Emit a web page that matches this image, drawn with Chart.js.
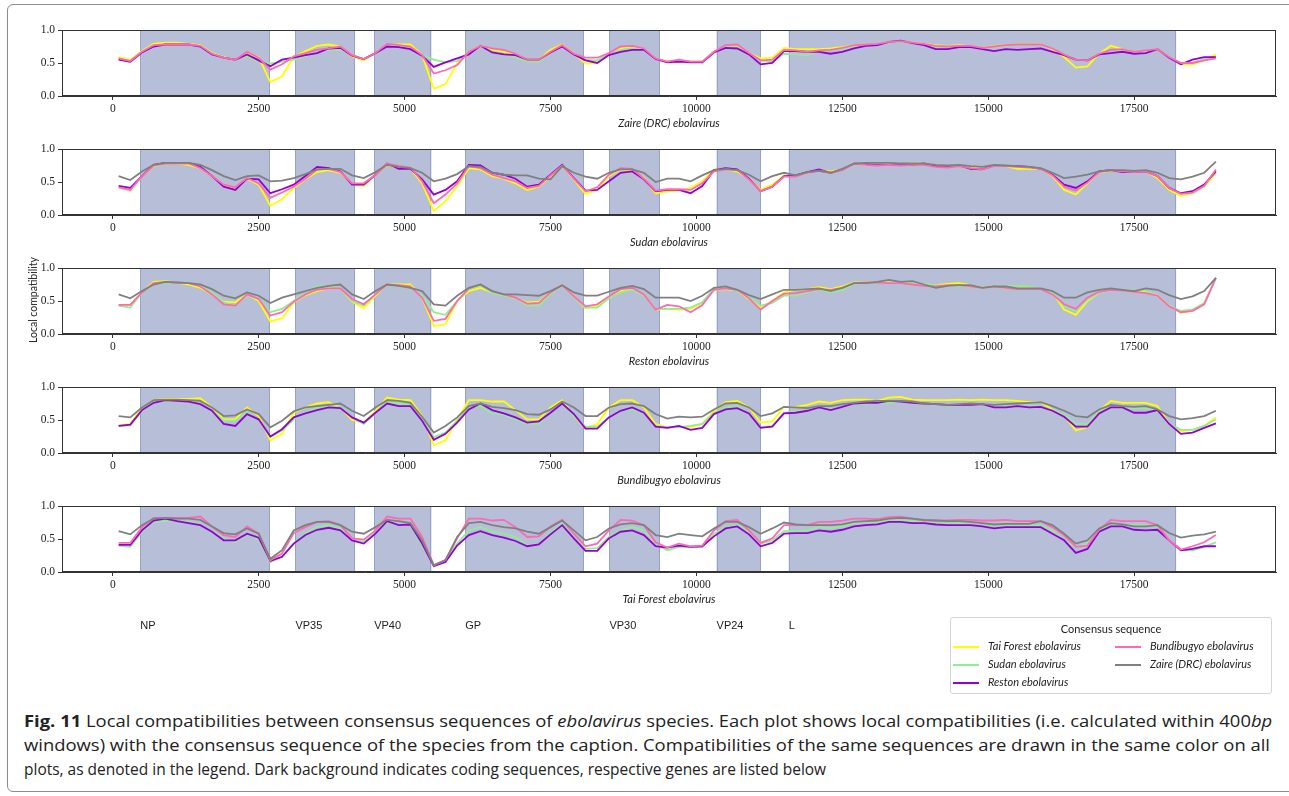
<!DOCTYPE html>
<html>
<head>
<meta charset="utf-8">
<script src="https://cdn.jsdelivr.net/npm/chart.js@4.4.0/dist/chart.umd.min.js"></script>
<style>
  body { margin: 0; background: #fff; width: 1289px; height: 796px; overflow: hidden; position: relative; }
  #frame { position: absolute; left: 7px; top: 4px; width: 1300px; height: 786px; border: 1px solid #8c8c8c; border-radius: 6px; }
  canvas { position: absolute; left: 0; }
  #ylabel { position: absolute; left: 33px; top: 300px; transform: translate(-50%, -50%) rotate(-90deg);
            font: 10.5px Lato, sans-serif; color: #222; white-space: nowrap; }
  #legend { position: absolute; left: 950px; top: 617px; width: 320px; height: 75px;
            border: 1px solid #d4d4d4; border-radius: 3px; font: italic 11px Lato, sans-serif; color: #222; }
  #legend .title { position: absolute; left: 0; width: 100%; top: 4px; text-align: center; font-style: normal; }
  #legend .item { position: absolute; white-space: nowrap; }
  #legend .item span { display: inline-block; width: 26px; height: 2px; vertical-align: middle; margin-right: 9px; }
  .cap { position: absolute; left: 24px; white-space: nowrap; font: 16.5px "Open Sans", sans-serif;
         color: #222; transform-origin: 0 0; }
</style>
</head>
<body>
<div id="frame"></div>
<canvas id="plot0" width="1289" height="110" style="top:20px"></canvas>
<canvas id="plot1" width="1289" height="110" style="top:139px"></canvas>
<canvas id="plot2" width="1289" height="110" style="top:258px"></canvas>
<canvas id="plot3" width="1289" height="110" style="top:377px"></canvas>
<canvas id="plot4" width="1289" height="145" style="top:496px"></canvas>
<div id="ylabel">Local compatibility</div>
<div id="legend">
  <div class="title">Consensus sequence</div>
  <div class="item" style="left:2px;top:21px"><span style="background:#ffff00"></span>Tai Forest ebolavirus</div>
  <div class="item" style="left:2px;top:39px"><span style="background:#90ee90"></span>Sudan ebolavirus</div>
  <div class="item" style="left:2px;top:57px"><span style="background:#9400d3"></span>Reston ebolavirus</div>
  <div class="item" style="left:164px;top:21px"><span style="background:#ff69b4"></span>Bundibugyo ebolavirus</div>
  <div class="item" style="left:164px;top:39px"><span style="background:#808080"></span>Zaire (DRC) ebolavirus</div>
</div>
<div class="cap" id="cap1" style="top:709px"><b>Fig. 11</b> Local compatibilities between consensus sequences of <i>ebolavirus</i> species. Each plot shows local compatibilities (i.e. calculated within 400<i>bp</i></div>
<div class="cap" id="cap2" style="top:733px">windows) with the consensus sequence of the species from the caption. Compatibilities of the same sequences are drawn in the same color on all</div>
<div class="cap" id="cap3" style="top:757px">plots, as denoted in the legend. Dark background indicates coding sequences, respective genes are listed below</div>
<script>
// window centres (bp)
const windowCenters = [100,300,500,700,900,1100,1300,1500,1700,1900,2100,2300,2500,2700,2900,3100,3300,3500,3700,3900,
  4100,4300,4500,4700,4900,5100,5300,5500,5700,5900,6100,6300,6500,6700,6900,7100,7300,7500,7700,7900,
  8100,8300,8500,8700,8900,9100,9300,9500,9700,9900,10100,10300,10500,10700,10900,11100,11300,11500,11700,11900,
  12100,12300,12500,12700,12900,13100,13300,13500,13700,13900,14100,14300,14500,14700,14900,15100,15300,15500,15700,15900,
  16100,16300,16500,16700,16900,17100,17300,17500,17700,17900,18100,18300,18500,18700,18900];

const xTicks = [0, 2500, 5000, 7500, 10000, 12500, 15000, 17500];
const yTicks = [0, 0.5, 1.0];

const geneNames = ["NP", "VP35", "VP40", "GP", "VP30", "VP24", "L"];
const geneStarts = [470, 3129, 4479, 6039, 8509, 10345, 11581];
const geneEnds = [2689, 4151, 5459, 8068, 9375, 11100, 18219];

// Zaire (DRC) consensus
const zaireTai = [0.59,0.55,0.68,0.79,0.81,0.81,0.79,0.77,0.65,0.59,
  0.55,0.64,0.59,0.21,0.30,0.59,0.68,0.76,0.78,0.75,
  0.60,0.54,0.65,0.77,0.78,0.78,0.62,0.11,0.18,0.49,
  0.67,0.76,0.70,0.67,0.63,0.55,0.55,0.70,0.78,0.64,
  0.49,0.50,0.64,0.72,0.75,0.71,0.57,0.52,0.53,0.52,
  0.52,0.67,0.75,0.76,0.65,0.57,0.58,0.73,0.71,0.71,
  0.71,0.72,0.74,0.77,0.78,0.79,0.82,0.83,0.81,0.79,
  0.77,0.76,0.77,0.75,0.73,0.76,0.77,0.78,0.78,0.78,
  0.71,0.59,0.43,0.45,0.64,0.76,0.71,0.67,0.68,0.71,
  0.59,0.48,0.48,0.54,0.63];
const zaireSudan = [0.57,0.53,0.67,0.76,0.78,0.78,0.78,0.76,0.64,0.58,
  0.56,0.60,0.52,0.49,0.52,0.55,0.60,0.70,0.70,0.70,
  0.62,0.56,0.65,0.76,0.75,0.72,0.62,0.55,0.51,0.53,
  0.66,0.76,0.67,0.63,0.59,0.52,0.52,0.66,0.75,0.64,
  0.55,0.54,0.64,0.70,0.72,0.70,0.57,0.52,0.53,0.52,
  0.52,0.67,0.75,0.74,0.64,0.54,0.52,0.64,0.63,0.62,
  0.67,0.70,0.71,0.75,0.78,0.79,0.81,0.82,0.80,0.78,
  0.75,0.74,0.75,0.75,0.72,0.74,0.76,0.77,0.77,0.77,
  0.72,0.64,0.55,0.55,0.64,0.70,0.69,0.67,0.68,0.71,
  0.59,0.50,0.51,0.56,0.60];
const zaireReston = [0.55,0.52,0.66,0.75,0.78,0.78,0.78,0.75,0.63,0.58,
  0.55,0.63,0.54,0.45,0.55,0.58,0.62,0.65,0.72,0.73,
  0.61,0.56,0.65,0.75,0.74,0.71,0.61,0.44,0.51,0.57,
  0.63,0.76,0.66,0.63,0.62,0.55,0.55,0.66,0.75,0.63,
  0.54,0.50,0.62,0.67,0.70,0.70,0.56,0.51,0.52,0.51,
  0.51,0.66,0.73,0.72,0.63,0.48,0.50,0.68,0.68,0.67,
  0.67,0.64,0.67,0.72,0.76,0.77,0.82,0.84,0.80,0.77,
  0.71,0.71,0.74,0.74,0.71,0.68,0.71,0.70,0.71,0.72,
  0.67,0.62,0.55,0.54,0.63,0.65,0.67,0.64,0.65,0.71,
  0.58,0.48,0.55,0.59,0.59];
const zaireBundi = [0.57,0.53,0.67,0.77,0.78,0.78,0.78,0.76,0.64,0.58,
  0.55,0.67,0.58,0.40,0.48,0.60,0.65,0.70,0.72,0.75,
  0.62,0.56,0.65,0.79,0.77,0.75,0.62,0.34,0.39,0.47,
  0.67,0.76,0.72,0.70,0.64,0.55,0.55,0.67,0.77,0.64,
  0.58,0.58,0.65,0.75,0.76,0.72,0.57,0.52,0.55,0.52,
  0.52,0.67,0.77,0.78,0.65,0.54,0.55,0.70,0.69,0.67,
  0.69,0.70,0.73,0.77,0.78,0.79,0.82,0.83,0.81,0.79,
  0.76,0.75,0.76,0.76,0.73,0.75,0.77,0.78,0.78,0.78,
  0.72,0.63,0.55,0.54,0.64,0.70,0.71,0.67,0.69,0.71,
  0.59,0.50,0.50,0.54,0.57];

// Sudan consensus
const sudanTai = [0.42,0.37,0.59,0.74,0.78,0.78,0.76,0.71,0.59,0.44,
  0.38,0.55,0.46,0.14,0.24,0.41,0.54,0.65,0.68,0.64,
  0.47,0.44,0.61,0.76,0.71,0.70,0.48,0.06,0.21,0.44,
  0.71,0.69,0.59,0.55,0.48,0.38,0.43,0.59,0.75,0.54,
  0.32,0.38,0.59,0.69,0.66,0.56,0.33,0.36,0.37,0.41,
  0.51,0.69,0.69,0.66,0.55,0.38,0.46,0.60,0.59,0.64,
  0.68,0.66,0.69,0.79,0.76,0.76,0.76,0.76,0.78,0.78,
  0.75,0.74,0.75,0.73,0.69,0.75,0.74,0.70,0.70,0.70,
  0.59,0.38,0.31,0.48,0.65,0.67,0.66,0.65,0.66,0.56,
  0.38,0.29,0.33,0.43,0.64];
const sudanReston = [0.44,0.41,0.59,0.76,0.79,0.79,0.79,0.73,0.59,0.43,
  0.38,0.55,0.54,0.33,0.39,0.46,0.59,0.73,0.71,0.66,
  0.46,0.46,0.61,0.78,0.70,0.70,0.54,0.31,0.38,0.51,
  0.76,0.75,0.64,0.61,0.55,0.43,0.46,0.61,0.76,0.56,
  0.37,0.38,0.51,0.64,0.66,0.54,0.36,0.38,0.38,0.33,
  0.44,0.68,0.71,0.69,0.55,0.36,0.43,0.59,0.60,0.65,
  0.69,0.64,0.69,0.78,0.77,0.76,0.76,0.76,0.76,0.78,
  0.74,0.73,0.75,0.70,0.69,0.75,0.74,0.74,0.73,0.70,
  0.61,0.46,0.41,0.51,0.66,0.68,0.65,0.65,0.66,0.59,
  0.41,0.33,0.36,0.46,0.66];
const sudanBundi = [0.42,0.38,0.59,0.75,0.78,0.78,0.78,0.71,0.59,0.46,
  0.42,0.56,0.48,0.26,0.34,0.43,0.55,0.69,0.70,0.65,
  0.48,0.48,0.61,0.78,0.74,0.72,0.51,0.18,0.31,0.48,
  0.74,0.71,0.61,0.56,0.51,0.41,0.44,0.60,0.75,0.55,
  0.36,0.42,0.61,0.71,0.70,0.55,0.37,0.39,0.39,0.38,
  0.48,0.66,0.69,0.68,0.54,0.36,0.43,0.58,0.58,0.64,
  0.67,0.64,0.68,0.78,0.76,0.75,0.76,0.75,0.76,0.76,
  0.73,0.72,0.74,0.71,0.69,0.74,0.74,0.73,0.72,0.70,
  0.60,0.43,0.37,0.49,0.65,0.68,0.66,0.65,0.66,0.59,
  0.41,0.32,0.34,0.44,0.69];
const sudanZaire = [0.59,0.53,0.66,0.76,0.79,0.79,0.79,0.76,0.68,0.59,
  0.53,0.59,0.60,0.51,0.52,0.56,0.62,0.69,0.70,0.70,
  0.60,0.56,0.65,0.76,0.73,0.71,0.64,0.51,0.55,0.62,
  0.74,0.73,0.64,0.61,0.60,0.60,0.55,0.54,0.74,0.64,
  0.58,0.55,0.64,0.69,0.69,0.64,0.50,0.55,0.55,0.51,
  0.60,0.68,0.70,0.68,0.61,0.51,0.59,0.64,0.60,0.65,
  0.67,0.64,0.70,0.78,0.79,0.79,0.79,0.78,0.78,0.78,
  0.76,0.75,0.76,0.74,0.73,0.76,0.75,0.74,0.73,0.71,
  0.64,0.56,0.58,0.61,0.66,0.68,0.68,0.67,0.68,0.64,
  0.56,0.54,0.58,0.64,0.81];

// Reston consensus
const restonTai = [0.44,0.44,0.63,0.79,0.80,0.78,0.75,0.70,0.60,0.49,
  0.48,0.60,0.50,0.19,0.24,0.48,0.59,0.65,0.69,0.69,
  0.49,0.39,0.58,0.75,0.75,0.75,0.55,0.12,0.15,0.50,
  0.65,0.70,0.63,0.59,0.54,0.48,0.49,0.63,0.74,0.57,
  0.39,0.43,0.55,0.65,0.68,0.60,0.37,0.38,0.37,0.38,
  0.47,0.67,0.68,0.66,0.53,0.40,0.50,0.63,0.67,0.68,
  0.71,0.68,0.72,0.78,0.78,0.78,0.78,0.77,0.77,0.75,
  0.74,0.76,0.77,0.74,0.70,0.72,0.70,0.69,0.69,0.68,
  0.63,0.37,0.29,0.50,0.63,0.67,0.67,0.64,0.65,0.58,
  0.43,0.32,0.35,0.45,0.85];
const restonSudan = [0.43,0.40,0.63,0.75,0.78,0.78,0.77,0.73,0.63,0.48,
  0.43,0.59,0.53,0.33,0.38,0.50,0.63,0.72,0.73,0.69,
  0.50,0.43,0.60,0.75,0.73,0.70,0.58,0.33,0.29,0.50,
  0.68,0.73,0.63,0.58,0.54,0.43,0.43,0.60,0.74,0.56,
  0.40,0.40,0.54,0.63,0.67,0.58,0.38,0.38,0.38,0.40,
  0.48,0.69,0.69,0.66,0.56,0.43,0.47,0.58,0.58,0.63,
  0.67,0.63,0.67,0.76,0.77,0.77,0.77,0.77,0.77,0.75,
  0.74,0.73,0.73,0.72,0.70,0.73,0.73,0.73,0.72,0.69,
  0.63,0.42,0.35,0.52,0.63,0.67,0.67,0.66,0.66,0.57,
  0.42,0.35,0.37,0.47,0.85];
const restonBundi = [0.44,0.44,0.63,0.77,0.79,0.78,0.77,0.72,0.60,0.45,
  0.43,0.60,0.53,0.28,0.33,0.49,0.60,0.67,0.69,0.69,
  0.53,0.45,0.60,0.75,0.74,0.72,0.55,0.20,0.23,0.50,
  0.69,0.75,0.65,0.60,0.55,0.46,0.47,0.63,0.74,0.57,
  0.42,0.45,0.57,0.68,0.70,0.60,0.37,0.44,0.42,0.33,
  0.44,0.67,0.69,0.67,0.54,0.37,0.50,0.61,0.62,0.65,
  0.68,0.67,0.70,0.77,0.78,0.78,0.77,0.77,0.75,0.73,
  0.72,0.74,0.74,0.72,0.70,0.72,0.70,0.68,0.68,0.68,
  0.60,0.45,0.38,0.55,0.64,0.67,0.66,0.64,0.62,0.58,
  0.42,0.33,0.35,0.45,0.85];
const restonZaire = [0.60,0.54,0.65,0.75,0.79,0.78,0.77,0.75,0.68,0.58,
  0.54,0.63,0.58,0.47,0.55,0.60,0.65,0.70,0.73,0.75,
  0.60,0.53,0.65,0.75,0.73,0.70,0.65,0.45,0.43,0.58,
  0.70,0.75,0.65,0.60,0.60,0.59,0.58,0.65,0.74,0.63,
  0.58,0.58,0.64,0.70,0.73,0.68,0.55,0.55,0.55,0.50,
  0.58,0.70,0.72,0.67,0.59,0.53,0.60,0.67,0.67,0.68,
  0.69,0.65,0.70,0.77,0.77,0.79,0.82,0.79,0.80,0.75,
  0.70,0.73,0.74,0.74,0.70,0.72,0.72,0.69,0.69,0.69,
  0.65,0.55,0.55,0.63,0.67,0.69,0.67,0.65,0.69,0.67,
  0.59,0.53,0.57,0.65,0.85];

// Bundibugyo consensus
const bundiTai = [0.42,0.44,0.69,0.80,0.82,0.82,0.82,0.83,0.69,0.51,
  0.51,0.69,0.56,0.19,0.29,0.61,0.69,0.75,0.77,0.69,
  0.50,0.46,0.64,0.84,0.81,0.80,0.56,0.12,0.19,0.51,
  0.80,0.80,0.78,0.78,0.65,0.51,0.51,0.69,0.80,0.56,
  0.37,0.44,0.69,0.80,0.80,0.69,0.44,0.39,0.40,0.39,
  0.44,0.64,0.77,0.79,0.69,0.46,0.48,0.70,0.70,0.73,
  0.78,0.76,0.80,0.81,0.81,0.79,0.84,0.85,0.81,0.80,
  0.80,0.80,0.81,0.80,0.81,0.80,0.80,0.79,0.77,0.77,
  0.66,0.56,0.34,0.39,0.64,0.79,0.76,0.76,0.76,0.71,
  0.44,0.33,0.35,0.41,0.54];
const bundiSudan = [0.41,0.42,0.64,0.78,0.79,0.79,0.79,0.75,0.64,0.49,
  0.49,0.61,0.51,0.24,0.34,0.51,0.61,0.69,0.71,0.70,
  0.54,0.44,0.61,0.78,0.75,0.74,0.54,0.24,0.31,0.49,
  0.69,0.71,0.60,0.58,0.51,0.44,0.44,0.61,0.76,0.56,
  0.40,0.40,0.54,0.64,0.66,0.60,0.41,0.39,0.39,0.41,
  0.44,0.61,0.69,0.71,0.60,0.39,0.41,0.61,0.63,0.65,
  0.69,0.66,0.70,0.75,0.75,0.75,0.76,0.78,0.76,0.75,
  0.74,0.73,0.74,0.75,0.74,0.70,0.71,0.70,0.71,0.71,
  0.65,0.58,0.44,0.44,0.63,0.69,0.68,0.68,0.68,0.64,
  0.44,0.35,0.35,0.41,0.51];
const bundiReston = [0.41,0.43,0.65,0.76,0.80,0.79,0.78,0.74,0.64,0.44,
  0.41,0.59,0.51,0.25,0.36,0.54,0.60,0.65,0.69,0.68,
  0.54,0.46,0.61,0.75,0.71,0.71,0.49,0.20,0.29,0.46,
  0.66,0.75,0.65,0.60,0.54,0.46,0.48,0.61,0.75,0.59,
  0.37,0.37,0.54,0.64,0.69,0.61,0.40,0.38,0.41,0.35,
  0.38,0.59,0.66,0.68,0.60,0.38,0.40,0.60,0.61,0.64,
  0.69,0.65,0.70,0.75,0.76,0.76,0.79,0.78,0.76,0.75,
  0.74,0.73,0.73,0.73,0.74,0.69,0.69,0.71,0.69,0.70,
  0.64,0.55,0.40,0.40,0.60,0.69,0.69,0.61,0.61,0.65,
  0.44,0.29,0.31,0.38,0.45];
const bundiZaire = [0.56,0.54,0.69,0.80,0.81,0.81,0.80,0.79,0.69,0.56,
  0.57,0.66,0.59,0.39,0.49,0.63,0.69,0.71,0.73,0.75,
  0.64,0.56,0.69,0.80,0.79,0.76,0.55,0.31,0.41,0.54,
  0.71,0.75,0.70,0.68,0.65,0.59,0.58,0.66,0.78,0.69,
  0.56,0.56,0.69,0.74,0.75,0.71,0.59,0.52,0.55,0.54,
  0.55,0.66,0.75,0.76,0.69,0.56,0.60,0.70,0.69,0.68,
  0.71,0.71,0.74,0.76,0.78,0.79,0.79,0.79,0.78,0.75,
  0.74,0.73,0.74,0.75,0.74,0.73,0.74,0.75,0.76,0.77,
  0.71,0.64,0.56,0.54,0.66,0.73,0.71,0.70,0.71,0.66,
  0.56,0.51,0.53,0.56,0.64];

// Tai Forest consensus
const taiSudan = [0.40,0.38,0.61,0.76,0.77,0.77,0.76,0.72,0.61,0.51,
  0.45,0.58,0.49,0.15,0.23,0.43,0.59,0.68,0.71,0.66,
  0.49,0.46,0.59,0.76,0.71,0.71,0.40,0.10,0.18,0.43,
  0.63,0.68,0.61,0.58,0.53,0.40,0.43,0.59,0.73,0.53,
  0.35,0.36,0.53,0.63,0.68,0.63,0.43,0.33,0.38,0.38,
  0.38,0.58,0.68,0.71,0.61,0.43,0.48,0.62,0.62,0.63,
  0.68,0.66,0.69,0.74,0.76,0.76,0.78,0.78,0.77,0.76,
  0.74,0.73,0.74,0.72,0.69,0.71,0.71,0.70,0.71,0.71,
  0.63,0.48,0.37,0.43,0.63,0.74,0.72,0.71,0.71,0.68,
  0.48,0.34,0.33,0.38,0.45];
const taiReston = [0.41,0.41,0.63,0.78,0.81,0.77,0.74,0.71,0.61,0.48,
  0.48,0.58,0.52,0.17,0.23,0.43,0.56,0.64,0.67,0.63,
  0.48,0.43,0.58,0.77,0.71,0.72,0.43,0.09,0.15,0.40,
  0.56,0.62,0.56,0.52,0.47,0.39,0.42,0.57,0.71,0.51,
  0.32,0.32,0.51,0.61,0.63,0.56,0.39,0.37,0.40,0.38,
  0.39,0.54,0.66,0.69,0.57,0.39,0.44,0.58,0.59,0.59,
  0.63,0.61,0.64,0.69,0.71,0.72,0.76,0.76,0.74,0.74,
  0.72,0.71,0.71,0.71,0.69,0.66,0.68,0.68,0.68,0.68,
  0.58,0.48,0.29,0.35,0.61,0.69,0.69,0.64,0.63,0.64,
  0.48,0.33,0.35,0.39,0.39];
const taiBundi = [0.44,0.44,0.68,0.82,0.82,0.82,0.82,0.84,0.69,0.56,
  0.53,0.69,0.58,0.18,0.28,0.59,0.68,0.76,0.77,0.71,
  0.51,0.49,0.63,0.84,0.81,0.81,0.53,0.10,0.18,0.51,
  0.81,0.81,0.78,0.79,0.68,0.53,0.54,0.69,0.79,0.58,
  0.39,0.43,0.63,0.79,0.78,0.71,0.45,0.37,0.43,0.39,
  0.40,0.63,0.77,0.79,0.63,0.44,0.51,0.71,0.71,0.71,
  0.76,0.76,0.78,0.81,0.81,0.80,0.83,0.84,0.81,0.78,
  0.78,0.78,0.79,0.79,0.78,0.78,0.79,0.77,0.77,0.77,
  0.68,0.56,0.38,0.40,0.64,0.79,0.77,0.77,0.77,0.71,
  0.48,0.34,0.39,0.45,0.56];
const taiZaire = [0.62,0.57,0.71,0.81,0.82,0.81,0.81,0.79,0.69,0.59,
  0.57,0.66,0.58,0.20,0.33,0.63,0.71,0.76,0.76,0.71,
  0.61,0.58,0.68,0.79,0.77,0.74,0.48,0.10,0.18,0.53,
  0.74,0.76,0.71,0.68,0.66,0.61,0.58,0.68,0.78,0.63,
  0.48,0.53,0.66,0.72,0.74,0.71,0.56,0.53,0.58,0.56,
  0.54,0.66,0.76,0.76,0.68,0.58,0.66,0.75,0.72,0.71,
  0.71,0.71,0.72,0.76,0.77,0.78,0.81,0.82,0.81,0.79,
  0.78,0.77,0.77,0.76,0.74,0.72,0.73,0.73,0.73,0.77,
  0.71,0.58,0.43,0.48,0.66,0.74,0.72,0.69,0.69,0.71,
  0.59,0.52,0.55,0.57,0.61];

const speciesNames = {
  tai: "Tai Forest ebolavirus", sudan: "Sudan ebolavirus", reston: "Reston ebolavirus",
  bundi: "Bundibugyo ebolavirus", zaire: "Zaire (DRC) ebolavirus"
};
const lineColors = { tai: "#ffff00", sudan: "#90ee90", reston: "#9400d3", bundi: "#ff69b4", zaire: "#808080" };

const plots = [
  { title: "Zaire (DRC) ebolavirus", series: { tai: zaireTai, sudan: zaireSudan, reston: zaireReston, bundi: zaireBundi } },
  { title: "Sudan ebolavirus", series: { tai: sudanTai, reston: sudanReston, bundi: sudanBundi, zaire: sudanZaire } },
  { title: "Reston ebolavirus", series: { tai: restonTai, sudan: restonSudan, bundi: restonBundi, zaire: restonZaire } },
  { title: "Bundibugyo ebolavirus", series: { tai: bundiTai, sudan: bundiSudan, reston: bundiReston, zaire: bundiZaire } },
  { title: "Tai Forest ebolavirus", series: { sudan: taiSudan, reston: taiReston, bundi: taiBundi, zaire: taiZaire } },
];

const serif = '"Liberation Serif", "DejaVu Serif", serif';

// gene shading behind the lines, plus a full box round the plot area
const genePlugin = {
  id: "genes",
  beforeDatasetsDraw(chart) {
    const { ctx, chartArea: a, scales: { x } } = chart;
    ctx.save();
    geneStarts.forEach((s, k) => {
      const x0 = x.getPixelForValue(s), x1 = x.getPixelForValue(geneEnds[k]);
      ctx.fillStyle = "rgb(182,190,216)";
      ctx.fillRect(x0, a.top, x1 - x0, a.bottom - a.top);
      ctx.strokeStyle = "rgb(150,162,200)";
      ctx.lineWidth = 1;
      ctx.beginPath();
      ctx.moveTo(Math.round(x0) + 0.5, a.top); ctx.lineTo(Math.round(x0) + 0.5, a.bottom);
      ctx.moveTo(Math.round(x1) - 0.5, a.top); ctx.lineTo(Math.round(x1) - 0.5, a.bottom);
      ctx.stroke();
    });
    ctx.restore();
  },
  afterDraw(chart) {
    const { ctx, chartArea: a } = chart;
    ctx.save();
    ctx.strokeStyle = "#333";
    ctx.lineWidth = 1;
    ctx.strokeRect(Math.round(a.left) + 0.5, Math.round(a.top) + 0.5, Math.round(a.right - a.left) - 1, Math.round(a.bottom - a.top) - 1);
    ctx.restore();
  }
};

const geneLabelPlugin = {
  id: "geneLabels",
  afterDraw(chart) {
    const { ctx, chartArea: a, scales: { x } } = chart;
    ctx.save();
    ctx.font = '11px "Liberation Sans", sans-serif';
    ctx.fillStyle = "#222";
    ctx.textBaseline = "middle";
    geneNames.forEach((g, k) => ctx.fillText(g, x.getPixelForValue(geneStarts[k]), a.bottom + 54));
    ctx.restore();
  }
};

const drawOrder = ["zaire", "bundi", "reston", "sudan", "tai"];

plots.forEach((p, n) => {
  const last = n === plots.length - 1;
  const datasets = drawOrder.filter(k => p.series[k]).map(k => ({
    label: speciesNames[k],
    data: windowCenters.map((x, i) => ({ x: x, y: p.series[k][i] })),
    borderColor: lineColors[k],
    borderWidth: 1.8,
    pointRadius: 0,
    fill: false,
    tension: 0,
  }));
  new Chart(document.getElementById("plot" + n), {
    type: "line",
    data: { datasets: datasets },
    plugins: last ? [genePlugin, geneLabelPlugin] : [genePlugin],
    options: {
      responsive: false,
      animation: false,
      events: [],
      layout: { padding: { top: 10, right: 13, left: 0, bottom: last ? 35 : 0 } },
      plugins: { legend: { display: false }, tooltip: { enabled: false } },
      scales: {
        x: {
          type: "linear",
          min: -870,
          max: 19930,
          afterBuildTicks: ax => { ax.ticks = xTicks.map(v => ({ value: v })); },
          afterFit: ax => { ax.height = 34; },
          ticks: { font: { family: serif, size: 11.5 }, color: "#222", padding: 2, maxRotation: 0, autoSkip: false,
                   callback: v => String(v) },
          grid: { drawOnChartArea: false, tickLength: 4, color: "#333" },
          border: { color: "#333" },
          title: { display: true, text: p.title, color: "#222", font: { family: "Lato", style: "italic", size: 11 }, padding: { top: 1, bottom: 0 } },
        },
        y: {
          min: 0,
          max: 1,
          afterBuildTicks: ax => { ax.ticks = yTicks.map(v => ({ value: v })); },
          afterFit: ax => { ax.width = 62; },
          ticks: { font: { family: serif, size: 11.5 }, color: "#222", padding: 3, callback: v => v.toFixed(1) },
          grid: { drawOnChartArea: false, tickLength: 4, color: "#333" },
          border: { color: "#333" },
        },
      },
    },
  });
});

// stretch caption lines to the widths they have in the figure
[["cap1", 1248], ["cap2", 1246], ["cap3", 802]].forEach(([id, w]) => {
  const el = document.getElementById(id);
  el.style.transform = "scaleX(" + (w / el.offsetWidth) + ")";
});
</script>
</body>
</html>
